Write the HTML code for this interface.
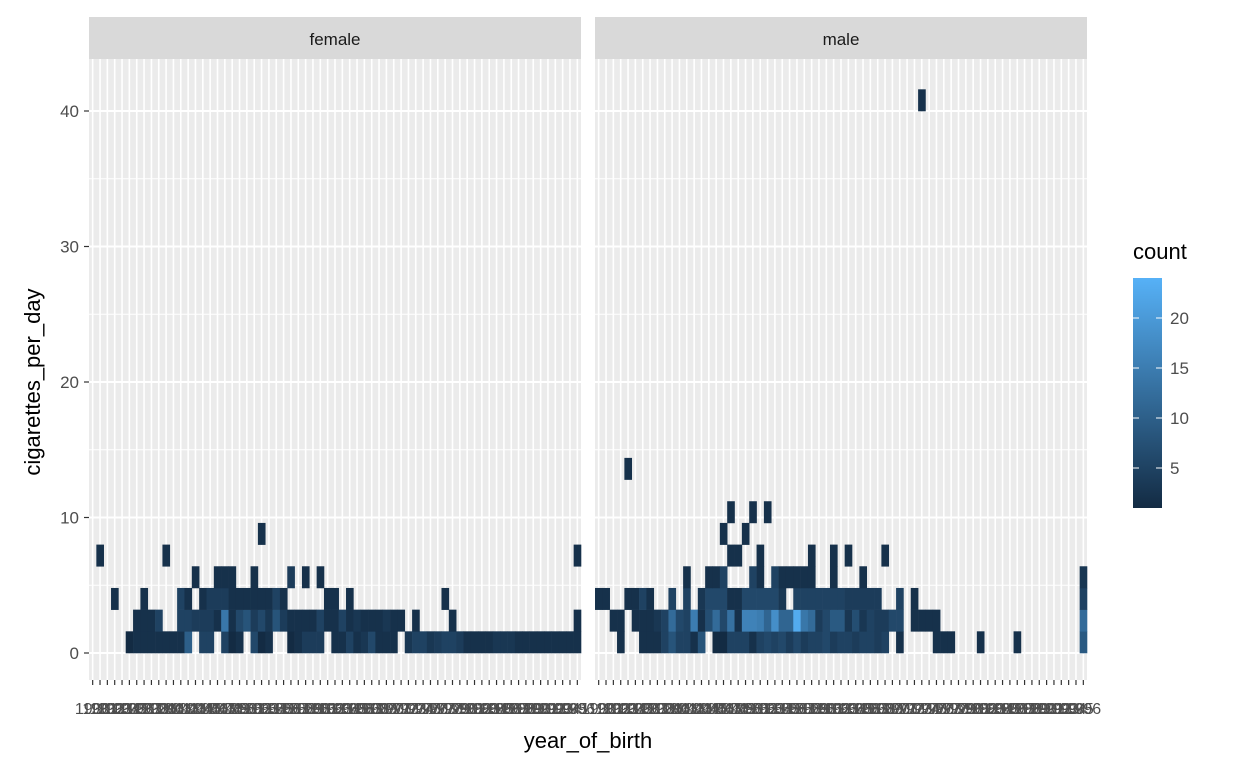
<!DOCTYPE html>
<html><head><meta charset="utf-8"><style>
html,body{margin:0;padding:0;background:#fff;}
svg{display:block;font-family:"Liberation Sans",Arial,sans-serif;}
</style></head><body>
<svg id="chart" width="1248" height="768" viewBox="0 0 1248 768"></svg>
<script>
// ---- data ----
const years = [];
for (let i = 0; i < 67; i++) years.push(String(1930 + i));
const panels = ["female", "male"];
const yTicks = [0, 10, 20, 30, 40];
const legendTicks = [5, 10, 15, 20];
// rows of counts: index = y-bin (bin width 1.6 cigarettes), char per year column ('.'=0, 1-9, a=10 ...)
const femaleRows = [
 ".....12222222a.55.512.612..12444.225236222.35534554222233322222222 2".replace("22222222 2", "222222222"),
 "......2225..554442e268463842222522523222322.2....2................2",
 "...2...2....52.244422222252.....22.2............2",
 "..............2..222..2....4.2.2",
 ".2........2.......................................................2",
 ".......................2"
];
const maleRows = [
 "...2..222585528.115552565646455645545545.2....222...2....2........9",
 "..22.22235c65f27c6d2ggfbibbnec469937354466.2222...................c",
 "22..2252..5.5.366622666663.555555544444..5.2......................5",
 "............2..225...52.522222..2...2.............................3",
 "..................22..2......2..2.2....2",
 ".................2..2",
 "..................2..2.2",
 "",
 "....2",
 "","","","","","","","","","","","","","","","",
 "............................................2"
];
</script>
<script>
const svg = document.getElementById('chart');
const NS = 'http://www.w3.org/2000/svg';
function mk(tag, attrs, parent) {
  const e = document.createElementNS(NS, tag);
  for (const k in attrs) e.setAttribute(k, attrs[k]);
  (parent || svg).appendChild(e);
  return e;
}
function parseCount(ch) {
  if (!ch || ch === '.' || ch === ' ') return 0;
  if (ch >= '0' && ch <= '9') return +ch;
  return ch.charCodeAt(0) - 87;
}
const panelX = [89, 595], panelW = 492, plotTop = 59, plotBottom = 680;
const nCols = years.length, cw = panelW / nCols;
const binW = 1.6;
function yScale(v) { return 653 - v * 13.55; }
const cLo = [0x13, 0x2B, 0x43], cHi = [0x56, 0xB1, 0xF7], cMin = 1, cMax = 24;
function color(v) {
  let t = Math.max(0, Math.min(1, (v - cMin) / (cMax - cMin)));
  const c = cLo.map((a, i) => Math.round(a + (cHi[i] - a) * t));
  return 'rgb(' + c.join(',') + ')';
}
const allRows = [femaleRows, maleRows];
panels.forEach((p, pi) => {
  const x0 = panelX[pi];
  const g = mk('g', {});
  
  
  const strip = mk('rect', {x: x0, y: 17, width: panelW, height: 42, fill: '#D9D9D9'}, g);
  
  
  const st = mk('text', {x: x0 + panelW / 2, y: 45, 'text-anchor': 'middle', 'font-size': 17, fill: '#1A1A1A'}, g);
  st.textContent = p;
  
  
  const bg = mk('rect', {x: x0, y: plotTop, width: panelW, height: plotBottom - plotTop, fill: '#EBEBEB'}, g);
  
  
  yTicks.forEach(v => {
    const y = yScale(v + 5);
    if (y > plotTop) mk('line', {x1: x0, x2: x0 + panelW, y1: y, y2: y, stroke: '#fff', 'stroke-width': 1}, g);
  });
  yTicks.forEach(v => {
    const y = yScale(v);
    const l = mk('line', {x1: x0, x2: x0 + panelW, y1: y, y2: y, stroke: '#fff', 'stroke-width': 2}, g);
    
    
  });
  years.forEach((yr, c) => {
    const cx = x0 + (c + 0.5) * cw;
    mk('line', {x1: cx, x2: cx, y1: plotTop, y2: plotBottom, stroke: '#fff', 'stroke-width': 1.6}, g);
    const tk = mk('line', {x1: cx, x2: cx, y1: plotBottom, y2: plotBottom + 5, stroke: '#333', 'stroke-width': 1.2}, g);
    
    
    const lb = mk('text', {x: cx, y: 714, 'text-anchor': 'middle', 'font-size': 16, fill: '#4D4D4D'}, g);
    lb.textContent = yr;
    
    
  });
  allRows[pi].forEach((row, k) => {
    for (let c = 0; c < nCols; c++) {
      const v = parseCount(row[c]);
      if (!v) continue;
      const yT = yScale((k + 1) * binW), yB = yScale(k * binW);
      const r = mk('rect', {x: x0 + c * cw, y: yT, width: cw + 0.3, height: yB - yT + 0.3, fill: color(v)}, g);
      
      
    }
  });
});
yTicks.forEach(v => {
  const y = yScale(v);
  const t = mk('line', {x1: 84, x2: 89, y1: y, y2: y, stroke: '#333', 'stroke-width': 1.2});
  
  
  const l = mk('text', {x: 79, y: y + 6, 'text-anchor': 'end', 'font-size': 17, fill: '#4D4D4D'});
  l.textContent = v;
  
  
});
const xt = mk('text', {x: 588, y: 748, 'text-anchor': 'middle', 'font-size': 22, fill: '#000'});
xt.textContent = 'year_of_birth';


const yt = mk('text', {x: 0, y: 0, 'text-anchor': 'middle', 'font-size': 22, fill: '#000', transform: 'translate(40,382) rotate(-90)'});
yt.textContent = 'cigarettes_per_day';


const defs = mk('defs', {});
const grad = mk('linearGradient', {id: 'lg', x1: 0, y1: 1, x2: 0, y2: 0}, defs);
mk('stop', {offset: 0, 'stop-color': color(cMin)}, grad);
mk('stop', {offset: 1, 'stop-color': color(cMax)}, grad);
const lgY = v => 508 - (v - cMin) / (cMax - cMin) * 230;
const lt = mk('text', {x: 1133, y: 259, 'font-size': 22, fill: '#000'});
lt.textContent = 'count';


const bar = mk('rect', {x: 1133, y: lgY(cMax), width: 29, height: lgY(cMin) - lgY(cMax), fill: 'url(#lg)'});


legendTicks.forEach(v => {
  const y = lgY(v);
  mk('line', {x1: 1133, x2: 1139, y1: y, y2: y, stroke: '#fff', 'stroke-width': 1});
  mk('line', {x1: 1156, x2: 1162, y1: y, y2: y, stroke: '#fff', 'stroke-width': 1});
  const l = mk('text', {x: 1170, y: y + 6, 'font-size': 17, fill: '#4D4D4D'});
  l.textContent = v;
  
  
});
</script>
</body></html>
